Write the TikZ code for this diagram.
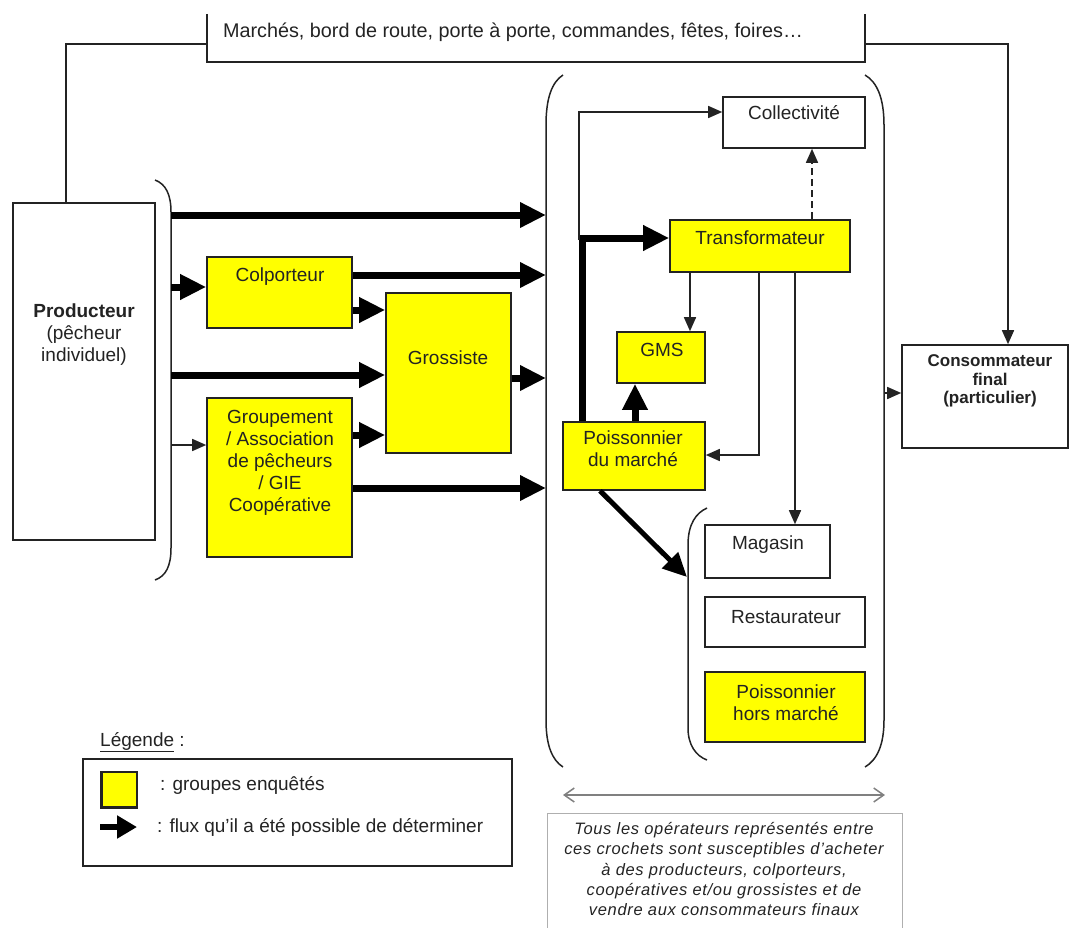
\documentclass[tikz,border=0pt]{standalone}
\usepackage{fontspec}
\setmainfont{Liberation Sans}
\usetikzlibrary{arrows.meta,fit}
\definecolor{fishyellow}{RGB}{255,255,0}
\definecolor{ink}{RGB}{35,35,35}
\definecolor{notegray}{RGB}{175,175,175}

\begin{document}
\begin{tikzpicture}[x=1pt,y=-1pt,
  box/.style={draw=ink, line width=1.6pt, inner sep=0pt, fill=white},
  ybox/.style={box, fill=fishyellow},
  lbl/.style={inner sep=0pt, align=center, text=ink, font=\fontsize{19}{22}\selectfont},
  flow/.style={draw=black, line width=7pt, -{Triangle[length=26pt,width=24pt]}},
  midflow/.style={draw=black, line width=5pt, -{Triangle[length=24pt,width=22pt]}},
  thinflow/.style={draw=ink, line width=1.5pt, -{Triangle[length=14pt,width=12pt]}},
  link/.style={draw=ink, line width=1.5pt},
  bracket/.style={draw=ink, line width=1.5pt},
]
\useasboundingbox (0,0) rectangle (1073,927);
\clip (0,0) rectangle (1073,927);

% ---- boxes ----
% open-topped band for direct sales
\node[inner sep=0pt, fit={(207,14) (865,62)}] (market) {};
\draw[link, line width=1.6pt] (market.north west) |- (market.south east) -- (market.north east);
\node[lbl, font=\fontsize{19.8}{22}\selectfont] at (513,32) {Marchés, bord de route, porte à porte, commandes, fêtes, foires…};

\node[box, fit={(13,203) (155,540)}] (prod) {};
\node[lbl] at (84,335) {\textbf{Producteur}\\(pêcheur\\individuel)};

\node[ybox, fit={(207,257) (352,328)}] (colp) {};
\node[lbl] at (280,277) {Colporteur};
\node[ybox, fit={(386,293) (511,453)}] (gros) {};
\node[lbl] at (448,358) {Grossiste};
\node[ybox, fit={(207,398) (352,557)}] (grp) {};
\node[lbl] at (280,463) {Groupement\\/ Association\\de pêcheurs\\/ GIE\\Coopérative};

\node[box, fit={(723,97) (865,148)}] (coll) {};
\node[lbl] at (794,113) {Collectivité};
\node[ybox, fit={(670,220) (850,272)}] (tr) {};
\node[lbl] at (760,238) {Transformateur};
\node[ybox, fit={(617,332) (705,383)}] (gms) {};
\node[lbl] at (662,350) {GMS};
\node[ybox, fit={(563,422) (705,490)}] (pm) {};
\node[lbl] at (633,449) {Poissonnier\\du marché};

\node[box, fit={(705,525) (830,578)}] (mag) {};
\node[lbl] at (768,545) {Magasin};
\node[box, fit={(705,597) (865,647)}] (rest) {};
\node[lbl] at (786,617) {Restaurateur};
\node[ybox, fit={(705,672) (865,742)}] (phm) {};
\node[lbl] at (786,703) {Poissonnier\\hors marché};

\node[box, fit={(902,345) (1068,448)}] (cons) {};
\node[lbl, font=\bfseries\fontsize{17}{18.5}\selectfont] at (990,381) {Consommateur\\final\\(particulier)};

% ---- brackets ----
\draw[bracket] (155,180) .. controls (166,184) and (171,195) .. (171,212)
  -- (171,548) .. controls (171,566) and (166,576) .. (155,580);
\draw[bracket] (563,75) .. controls (552,82) and (546,98) .. (546,125)
  -- (546,720) .. controls (546,745) and (552,760) .. (563,767);
\draw[bracket] (865,75) .. controls (877,82) and (884,98) .. (884,125)
  -- (884,720) .. controls (884,745) and (877,760) .. (865,767);
\draw[bracket] (707,508) .. controls (696,513) and (688,524) .. (688,545)
  -- (688,728) .. controls (688,745) and (696,756) .. (707,760);

\coordinate (pL) at (171,0);
\coordinate (bigL) at (546,0);
\coordinate (bigR) at (884,0);
\coordinate (innerIn) at (687,577);

% ---- flows from producers ----
\draw[flow] (pL |- 0,215) -- (bigL |- 0,215);
\draw[flow] (pL |- 0,287) -- (colp.west |- 0,287);
\draw[flow] (pL |- 0,375) -- (gros.west |- 0,375);
\draw[thinflow] (pL |- 0,445) -- (grp.west |- 0,445);

\draw[flow] (colp.east |- 0,275) -- (bigL |- 0,275);
\draw[flow] (colp.east |- 0,310) -- (gros.west |- 0,310);
\draw[flow] (grp.east |- 0,435) -- (gros.west |- 0,435);
\draw[flow] (grp.east |- 0,488) -- (bigL |- 0,488);
\draw[flow] (gros.east |- 0,378) -- (bigL |- 0,378);

% ---- flows inside the bracket ----
\draw[flow] (582,0 |- pm.north) -- (582,238) -- (tr.west |- 0,238);
\draw[thinflow] (579,240) -- (579,112) -- (coll.west |- 0,112);
\draw[thinflow, dashed, dash pattern=on 7pt off 4pt] (812,0 |- tr.north) -- (812,0 |- coll.south);
\draw[thinflow] (690,0 |- tr.south) -- (690,0 |- gms.north);
\draw[thinflow] (759,0 |- tr.south) -- (759,455) -- (pm.east |- 0,455);
\draw[thinflow] (795,0 |- tr.south) -- (795,0 |- mag.north);
\draw[flow] (635,0 |- pm.north) -- (635,0 |- gms.south);
\draw[midflow] (600,0 |- pm.south) -- (innerIn);

% ---- direct sales and final consumer ----
\draw[link] (66,0 |- prod.north) -- (66,44) -- (market.west |- 0,44);
\draw[thinflow] (market.east |- 0,44) -- (1008,44) -- (1008,0 |- cons.north);
\draw[thinflow] (bigR |- 0,393) -- (cons.west |- 0,393);

% ---- span of the bracket and its note ----
\draw[draw=gray, line width=1.5pt, {Straight Barb[length=10pt,width=14pt]}-{Straight Barb[length=10pt,width=14pt]}] (563,795) -- (885,795);
\node[draw=notegray, line width=1pt, inner sep=0pt, fit={(547,813) (902,940)}] (note) {};
\node[lbl, font=\itshape\fontsize{16.5}{20.3}\selectfont\addfontfeature{LetterSpace=4}] at (724,869) {Tous les opérateurs représentés entre\\ces crochets sont susceptibles d'acheter\\à des producteurs, colporteurs,\\coopératives  et/ou grossistes et de\\vendre aux consommateurs finaux};

% ---- legend ----
\node[lbl, anchor=west] at (100,742) {\underline{Légende} :};
\node[box, fit={(83,759) (512,866)}] (legend) {};
\node[ybox, fit={(102,772) (137,807)}] (legsq) {};
\draw[draw=ink, line width=3pt] (legsq.north west) |- (legsq.south east);
\node[lbl, anchor=west] at (160,785) {: groupes enquêtés};
\coordinate (legA) at (100,827);
\coordinate (legB) at (137,827);
\draw[draw=black, line width=6pt, -{Triangle[length=20pt,width=22pt]}] (legA) -- (legB);
\node[lbl, anchor=west] at (157,827) {: flux qu'il a été possible de déterminer};
\end{tikzpicture}
\end{document}
